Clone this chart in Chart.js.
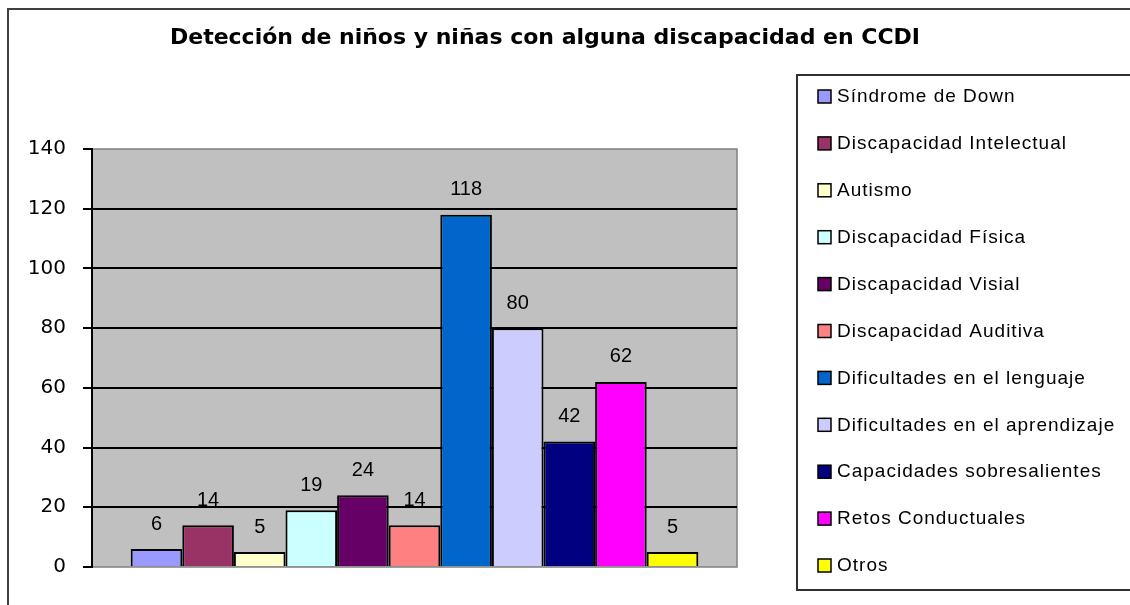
<!DOCTYPE html>
<html>
<head>
<meta charset="utf-8">
<title>Detección de niños y niñas con alguna discapacidad en CCDI</title>
<script src="https://cdn.jsdelivr.net/npm/chart.js@4.4.0/dist/chart.umd.min.js"></script>
<style>
    body { margin: 0; background: #fff; }
    #wrap { width: 1130px; height: 605px; }
</style>
</head>
<body>
<div id="wrap"><canvas id="ccdiChart" width="1130" height="605"></canvas></div>
<script>
// Data
const categories = [''];
const seriesNames = [
    'Síndrome de Down',
    'Discapacidad Intelectual',
    'Autismo',
    'Discapacidad Física',
    'Discapacidad Visial',
    'Discapacidad Auditiva',
    'Dificultades en el lenguaje',
    'Dificultades en el aprendizaje',
    'Capacidades sobresalientes',
    'Retos Conductuales',
    'Otros'
];
const seriesValues = [6, 14, 5, 19, 24, 14, 118, 80, 42, 62, 5];
const seriesColors = [
    '#9999FF', '#993366', '#FFFFCC', '#CCFFFF', '#660066', '#FF8080',
    '#0066CC', '#CCCCFF', '#000080', '#FF00FF', '#FFFF00'
];
const yTicks = [0, 20, 40, 60, 80, 100, 120, 140];

const titleText = 'Detección de niños y niñas con alguna discapacidad en CCDI';

// Background, outer frame and grey plot area
const framePlugin = {
    id: 'frame',
    beforeDraw(chart) {
        const { ctx, chartArea: a } = chart;
        ctx.save();
        ctx.fillStyle = '#fff';
        ctx.fillRect(0, 0, chart.width, chart.height);
        ctx.strokeStyle = '#404040';
        ctx.lineWidth = 2;
        ctx.strokeRect(8, 9, chart.width + 20, chart.height + 20);
        ctx.fillStyle = '#C0C0C0';
        ctx.fillRect(a.left, a.top, a.right - a.left, a.bottom - a.top);
        ctx.strokeStyle = '#808080';
        ctx.lineWidth = 1.5;
        ctx.strokeRect(a.left, a.top, a.right - a.left, a.bottom - a.top);
        ctx.restore();
    }
};

// Title (drawn by hand so it can sit off-centre like the original)
const titlePlugin = {
    id: 'customTitle',
    afterDraw(chart) {
        const ctx = chart.ctx;
        ctx.save();
        ctx.font = 'bold 22px "DejaVu Sans"';
        ctx.fillStyle = '#000';
        ctx.textAlign = 'center';
        ctx.textBaseline = 'middle';
        ctx.fillText(titleText, 545, 38);
        ctx.restore();
    }
};

// Value labels above every bar
const valueLabels = {
    id: 'valueLabels',
    afterDatasetsDraw(chart) {
        const ctx = chart.ctx;
        ctx.save();
        ctx.font = '20px "Liberation Sans"';
        ctx.fillStyle = '#000';
        ctx.textAlign = 'center';
        ctx.textBaseline = 'middle';
        chart.data.datasets.forEach((ds, i) => {
            const bar = chart.getDatasetMeta(i).data[0];
            ctx.fillText(ds.data[0], bar.x, bar.y - 25);
        });
        ctx.restore();
    }
};

// Legend box on the right, built from the datasets
const legendBox = {
    id: 'legendBox',
    afterDraw(chart) {
        const ctx = chart.ctx;
        ctx.save();
        ctx.strokeStyle = '#303030';
        ctx.lineWidth = 2;
        ctx.strokeRect(797, 75, 400, 515);
        ctx.font = '19px "Liberation Sans"';
        ctx.letterSpacing = '1px';
        ctx.textBaseline = 'middle';
        chart.data.datasets.forEach((ds, i) => {
            const y = 97 + i * 46.9;
            ctx.fillStyle = ds.backgroundColor;
            ctx.fillRect(818, y - 7, 13, 13);
            ctx.strokeStyle = '#000';
            ctx.lineWidth = 1.5;
            ctx.strokeRect(818, y - 7, 13, 13);
            ctx.fillStyle = '#000';
            ctx.fillText(ds.label, 837, y);
        });
        ctx.restore();
    }
};

const datasets = seriesNames.map((name, i) => ({
    label: name,
    data: [seriesValues[i]],
    backgroundColor: seriesColors[i],
    borderColor: '#000',
    borderWidth: 2
}));

new Chart(document.getElementById('ccdiChart'), {
    type: 'bar',
    data: { labels: categories, datasets: datasets },
    options: {
        responsive: false,
        animation: false,
        layout: { padding: { left: 0, right: 393, top: 149, bottom: 38 } },
        datasets: { bar: { categoryPercentage: 0.88, barPercentage: 1 } },
        plugins: {
            legend: { display: false },
            title: { display: false },
            tooltip: { enabled: false }
        },
        scales: {
            x: { display: false },
            y: {
                min: 0,
                max: 140,
                afterFit: scale => { scale.width = 92; },
                afterBuildTicks: scale => { scale.ticks = yTicks.map(v => ({ value: v })); },
                ticks: {
                    color: '#000',
                    padding: 17,
                    font: { family: 'DejaVu Sans', size: 20 }
                },
                grid: {
                    color: c => (c.tick.value === 0 || c.tick.value === 140) ? 'rgba(0,0,0,0)' : '#000',
                    tickColor: '#000',
                    tickLength: 9,
                    lineWidth: 2
                },
                border: { display: true, color: '#000', width: 2 }
            }
        }
    },
    plugins: [framePlugin, valueLabels, titlePlugin, legendBox]
});
</script>
</body>
</html>
